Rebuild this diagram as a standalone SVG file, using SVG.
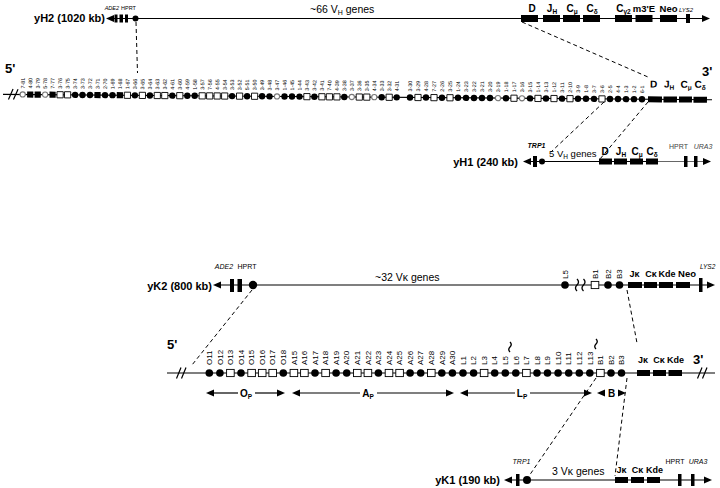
<svg xmlns="http://www.w3.org/2000/svg" width="720" height="488" viewBox="0 0 720 488">
<style>
text{font-family:"Liberation Sans",Arial,sans-serif;fill:#000}
.b{font-weight:bold}
.i{font-style:italic}
.hl{font-size:5.3px}
.kl{font-size:8px}
.ln{stroke:#000;stroke-width:1.2;fill:none}
.gl{stroke:#666;stroke-width:1;fill:none}
.ds{stroke:#000;stroke-width:1;stroke-dasharray:4 3;fill:none}
.wv{stroke:#000;stroke-width:1.3;fill:none}
</style>
<defs>
<circle id="hf" r="3.2" fill="#000"/>
<circle id="ho" r="2.6" fill="#fff" stroke="#777" stroke-width="1.1"/>
<rect id="hs" x="-3.1" y="-3.1" width="6.2" height="6.2" fill="#fff" stroke="#000" stroke-width="0.9"/>
<rect id="hq" x="-3.1" y="-3.1" width="6.2" height="6.2" fill="#000"/>
<circle id="kf" r="3.8" fill="#000"/>
<rect id="ks" x="-3.8" y="-3.6" width="7.6" height="7.2" fill="#fff" stroke="#000" stroke-width="0.9"/>
</defs>
<rect width="720" height="488" fill="#fff"/>

<!-- yH2 YAC -->
<g id="yH2">
<text x="105" y="22" class="b" font-size="11" text-anchor="end">yH2 (1020 kb)</text>
<line x1="113" y1="18.5" x2="703" y2="18.5" class="ln"/>
<polygon points="106,18.5 114,15 114,22" fill="#000"/>
<rect x="114.5" y="14.5" width="3" height="8" fill="#000"/>
<rect x="119.5" y="14.5" width="3.5" height="8" fill="#000"/>
<rect x="125" y="14.5" width="3" height="8" fill="#000"/>
<circle cx="135.5" cy="18.5" r="3" fill="#000"/>
<text x="119" y="10" class="i" font-size="5.5" text-anchor="end">ADE2</text>
<text x="121" y="10" font-size="5.5">HPRT</text>
<text x="310" y="13" font-size="10.5">~66 V<tspan font-size="7" dy="2">H</tspan><tspan dy="-2"> genes</tspan></text>
<rect x="521" y="15" width="17" height="7" fill="#000"/>
<rect x="543" y="15" width="17" height="7" fill="#000"/>
<rect x="563" y="15" width="17" height="7" fill="#000"/>
<rect x="583" y="15" width="17" height="7" fill="#000"/>
<rect x="615" y="15" width="17" height="7" fill="#000"/>
<rect x="635.5" y="15" width="17" height="7" fill="#000"/>
<rect x="660" y="15" width="17" height="7" fill="#000"/>
<rect x="686" y="14" width="4" height="9" fill="#000"/>
<polygon points="702,15 710,18.5 702,22" fill="#000"/>
<text x="532" y="11.5" class="b" font-size="10" text-anchor="middle">D</text>
<text x="552" y="11.5" class="b" font-size="10" text-anchor="middle">J<tspan font-size="6.5" dy="2">H</tspan></text>
<text x="572" y="11.5" class="b" font-size="10" text-anchor="middle">C<tspan font-size="6.5" dy="2">μ</tspan></text>
<text x="592" y="11.5" class="b" font-size="10" text-anchor="middle">C<tspan font-size="6.5" dy="2">δ</tspan></text>
<text x="623.5" y="11.5" class="b" font-size="10" text-anchor="middle">C<tspan font-size="6.5" dy="2">γ2</tspan></text>
<text x="644" y="11.5" class="b" font-size="9.5" text-anchor="middle">m3'E</text>
<text x="668.5" y="11.5" class="b" font-size="9.5" text-anchor="middle">Neo</text>
<text x="679" y="11.5" class="i" font-size="6">LYS2</text>
</g>

<!-- Heavy chain locus -->
<g id="ighLabels">
<text x="5" y="73" class="b" font-size="13">5'</text>
<text x="702" y="76" class="b" font-size="13">3'</text>
</g>
<g id="ighLocus" transform="rotate(0.44 0 94.3)">
<line x1="3" y1="94.3" x2="712" y2="94.3" class="ln"/>
<path d="M8.5,99.5 L13,89 M13.5,99.5 L18,89" class="ln"/>
<g id="vh-7-81"><use href="#ho" x="22.7" y="94.3"/><text class="hl" transform="translate(24.6 88.3) rotate(-90)">7-81</text></g>
<g id="vh-4-80"><use href="#hq" x="30.2" y="94.3"/><text class="hl" transform="translate(32.1 88.3) rotate(-90)">4-80</text></g>
<g id="vh-3-79"><use href="#hq" x="37.7" y="94.3"/><text class="hl" transform="translate(39.6 88.3) rotate(-90)">3-79</text></g>
<g id="vh-5-78"><use href="#ho" x="45.1" y="94.3"/><text class="hl" transform="translate(47 88.3) rotate(-90)">5-78</text></g>
<g id="vh-7-77"><use href="#hq" x="52.6" y="94.3"/><text class="hl" transform="translate(54.5 88.3) rotate(-90)">7-77</text></g>
<g id="vh-3-76"><use href="#hs" x="60.1" y="94.3"/><text class="hl" transform="translate(62 88.3) rotate(-90)">3-76</text></g>
<g id="vh-3-75"><use href="#hs" x="67.6" y="94.3"/><text class="hl" transform="translate(69.5 88.3) rotate(-90)">3-75</text></g>
<g id="vh-3-74"><use href="#hf" x="75.1" y="94.3"/><text class="hl" transform="translate(77 88.3) rotate(-90)">3-74</text></g>
<g id="vh-3-73"><use href="#hf" x="82.5" y="94.3"/><text class="hl" transform="translate(84.4 88.3) rotate(-90)">3-73</text></g>
<g id="vh-3-72"><use href="#hf" x="90" y="94.3"/><text class="hl" transform="translate(91.9 88.3) rotate(-90)">3-72</text></g>
<g id="vh-3-71"><use href="#hq" x="97.5" y="94.3"/><text class="hl" transform="translate(99.4 88.3) rotate(-90)">3-71</text></g>
<g id="vh-2-70"><use href="#hf" x="105" y="94.3"/><text class="hl" transform="translate(106.9 88.3) rotate(-90)">2-70</text></g>
<g id="vh-1-69"><use href="#hf" x="112.5" y="94.3"/><text class="hl" transform="translate(114.4 88.3) rotate(-90)">1-69</text></g>
<g id="vh-1-68"><use href="#hq" x="119.9" y="94.3"/><text class="hl" transform="translate(121.8 88.3) rotate(-90)">1-68</text></g>
<g id="vh-1-67"><use href="#hs" x="127.4" y="94.3"/><text class="hl" transform="translate(129.3 88.3) rotate(-90)">1-67</text></g>
<g id="vh-3-66"><use href="#hf" x="134.9" y="94.3"/><text class="hl" transform="translate(136.8 88.3) rotate(-90)">3-66</text></g>
<g id="vh-3-65"><use href="#hs" x="142.4" y="94.3"/><text class="hl" transform="translate(144.3 88.3) rotate(-90)">3-65</text></g>
<g id="vh-3-64"><use href="#hf" x="149.9" y="94.3"/><text class="hl" transform="translate(151.8 88.3) rotate(-90)">3-64</text></g>
<g id="vh-3-63"><use href="#hs" x="157.3" y="94.3"/><text class="hl" transform="translate(159.2 88.3) rotate(-90)">3-63</text></g>
<g id="vh-3-62"><use href="#hs" x="164.8" y="94.3"/><text class="hl" transform="translate(166.7 88.3) rotate(-90)">3-62</text></g>
<g id="vh-4-61"><use href="#hf" x="172.3" y="94.3"/><text class="hl" transform="translate(174.2 88.3) rotate(-90)">4-61</text></g>
<g id="vh-3-60"><use href="#hs" x="179.8" y="94.3"/><text class="hl" transform="translate(181.7 88.3) rotate(-90)">3-60</text></g>
<g id="vh-4-59"><use href="#hf" x="187.3" y="94.3"/><text class="hl" transform="translate(189.2 88.3) rotate(-90)">4-59</text></g>
<g id="vh-1-58"><use href="#hf" x="194.7" y="94.3"/><text class="hl" transform="translate(196.6 88.3) rotate(-90)">1-58</text></g>
<g id="vh-3-57"><use href="#hs" x="202.2" y="94.3"/><text class="hl" transform="translate(204.1 88.3) rotate(-90)">3-57</text></g>
<g id="vh-7-56"><use href="#hs" x="209.7" y="94.3"/><text class="hl" transform="translate(211.6 88.3) rotate(-90)">7-56</text></g>
<g id="vh-4-55"><use href="#hs" x="217.2" y="94.3"/><text class="hl" transform="translate(219.1 88.3) rotate(-90)">4-55</text></g>
<g id="vh-3-54"><use href="#hs" x="224.7" y="94.3"/><text class="hl" transform="translate(226.6 88.3) rotate(-90)">3-54</text></g>
<g id="vh-3-53"><use href="#hf" x="232.1" y="94.3"/><text class="hl" transform="translate(234 88.3) rotate(-90)">3-53</text></g>
<g id="vh-3-52"><use href="#hs" x="239.6" y="94.3"/><text class="hl" transform="translate(241.5 88.3) rotate(-90)">3-52</text></g>
<g id="vh-5-51"><use href="#hf" x="247.1" y="94.3"/><text class="hl" transform="translate(249 88.3) rotate(-90)">5-51</text></g>
<g id="vh-3-50"><use href="#hs" x="254.6" y="94.3"/><text class="hl" transform="translate(256.5 88.3) rotate(-90)">3-50</text></g>
<g id="vh-3-49"><use href="#hf" x="262.1" y="94.3"/><text class="hl" transform="translate(264 88.3) rotate(-90)">3-49</text></g>
<g id="vh-3-48"><use href="#hf" x="269.5" y="94.3"/><text class="hl" transform="translate(271.4 88.3) rotate(-90)">3-48</text></g>
<g id="vh-3-47"><use href="#ho" x="277" y="94.3"/><text class="hl" transform="translate(278.9 88.3) rotate(-90)">3-47</text></g>
<g id="vh-1-46"><use href="#hf" x="284.5" y="94.3"/><text class="hl" transform="translate(286.4 88.3) rotate(-90)">1-46</text></g>
<g id="vh-1-45"><use href="#hf" x="292" y="94.3"/><text class="hl" transform="translate(293.9 88.3) rotate(-90)">1-45</text></g>
<g id="vh-1-44"><use href="#hf" x="299.5" y="94.3"/><text class="hl" transform="translate(301.4 88.3) rotate(-90)">1-44</text></g>
<g id="vh-3-43"><use href="#hs" x="306.9" y="94.3"/><text class="hl" transform="translate(308.8 88.3) rotate(-90)">3-43</text></g>
<g id="vh-3-42"><use href="#hf" x="314.4" y="94.3"/><text class="hl" transform="translate(316.3 88.3) rotate(-90)">3-42</text></g>
<g id="vh-3-41"><use href="#hs" x="321.9" y="94.3"/><text class="hl" transform="translate(323.8 88.3) rotate(-90)">3-41</text></g>
<g id="vh-7-40"><use href="#hs" x="329.4" y="94.3"/><text class="hl" transform="translate(331.3 88.3) rotate(-90)">7-40</text></g>
<g id="vh-4-39"><use href="#hs" x="336.9" y="94.3"/><text class="hl" transform="translate(338.8 88.3) rotate(-90)">4-39</text></g>
<g id="vh-3-38"><use href="#hf" x="344.3" y="94.3"/><text class="hl" transform="translate(346.2 88.3) rotate(-90)">3-38</text></g>
<g id="vh-3-37"><use href="#ho" x="351.8" y="94.3"/><text class="hl" transform="translate(353.7 88.3) rotate(-90)">3-37</text></g>
<g id="vh-3-36"><use href="#hs" x="359.3" y="94.3"/><text class="hl" transform="translate(361.2 88.3) rotate(-90)">3-36</text></g>
<g id="vh-3-35"><use href="#hs" x="366.8" y="94.3"/><text class="hl" transform="translate(368.7 88.3) rotate(-90)">3-35</text></g>
<g id="vh-4-34"><use href="#ho" x="374.3" y="94.3"/><text class="hl" transform="translate(376.2 88.3) rotate(-90)">4-34</text></g>
<g id="vh-3-33"><use href="#hf" x="381.7" y="94.3"/><text class="hl" transform="translate(383.6 88.3) rotate(-90)">3-33</text></g>
<g id="vh-3-32"><use href="#hs" x="389.2" y="94.3"/><text class="hl" transform="translate(391.1 88.3) rotate(-90)">3-32</text></g>
<g id="vh-4-31"><use href="#hf" x="396.7" y="94.3"/><text class="hl" transform="translate(398.6 88.3) rotate(-90)">4-31</text></g>
<g id="vh-3-30"><use href="#hf" x="410" y="94.3"/><text class="hl" transform="translate(411.9 88.3) rotate(-90)">3-30</text></g>
<g id="vh-3-29"><use href="#hs" x="418" y="94.3"/><text class="hl" transform="translate(419.9 88.3) rotate(-90)">3-29</text></g>
<g id="vh-4-28"><use href="#hf" x="426" y="94.3"/><text class="hl" transform="translate(427.9 88.3) rotate(-90)">4-28</text></g>
<g id="vh-7-27"><use href="#hs" x="434" y="94.3"/><text class="hl" transform="translate(435.9 88.3) rotate(-90)">7-27</text></g>
<g id="vh-2-26"><use href="#hf" x="442" y="94.3"/><text class="hl" transform="translate(443.9 88.3) rotate(-90)">2-26</text></g>
<g id="vh-3-25"><use href="#hs" x="450" y="94.3"/><text class="hl" transform="translate(451.9 88.3) rotate(-90)">3-25</text></g>
<g id="vh-1-24"><use href="#hf" x="458" y="94.3"/><text class="hl" transform="translate(459.9 88.3) rotate(-90)">1-24</text></g>
<g id="vh-3-23"><use href="#hf" x="466" y="94.3"/><text class="hl" transform="translate(467.9 88.3) rotate(-90)">3-23</text></g>
<g id="vh-3-22"><use href="#hf" x="474" y="94.3"/><text class="hl" transform="translate(475.9 88.3) rotate(-90)">3-22</text></g>
<g id="vh-3-21"><use href="#hf" x="482" y="94.3"/><text class="hl" transform="translate(483.9 88.3) rotate(-90)">3-21</text></g>
<g id="vh-3-20"><use href="#hf" x="490" y="94.3"/><text class="hl" transform="translate(491.9 88.3) rotate(-90)">3-20</text></g>
<g id="vh-3-19"><use href="#ho" x="498" y="94.3"/><text class="hl" transform="translate(499.9 88.3) rotate(-90)">3-19</text></g>
<g id="vh-1-18"><use href="#hf" x="506" y="94.3"/><text class="hl" transform="translate(507.9 88.3) rotate(-90)">1-18</text></g>
<g id="vh-1-17"><use href="#hs" x="514" y="94.3"/><text class="hl" transform="translate(515.9 88.3) rotate(-90)">1-17</text></g>
<g id="vh-3-16"><use href="#ho" x="522" y="94.3"/><text class="hl" transform="translate(523.9 88.3) rotate(-90)">3-16</text></g>
<g id="vh-3-15"><use href="#hf" x="530" y="94.3"/><text class="hl" transform="translate(531.9 88.3) rotate(-90)">3-15</text></g>
<g id="vh-1-14"><use href="#hs" x="538" y="94.3"/><text class="hl" transform="translate(539.9 88.3) rotate(-90)">1-14</text></g>
<g id="vh-3-13"><use href="#hf" x="546" y="94.3"/><text class="hl" transform="translate(547.9 88.3) rotate(-90)">3-13</text></g>
<g id="vh-1-12"><use href="#hs" x="554" y="94.3"/><text class="hl" transform="translate(555.9 88.3) rotate(-90)">1-12</text></g>
<g id="vh-3-11"><use href="#hf" x="562" y="94.3"/><text class="hl" transform="translate(563.9 88.3) rotate(-90)">3-11</text></g>
<g id="vh-2-10"><use href="#hs" x="570" y="94.3"/><text class="hl" transform="translate(571.9 88.3) rotate(-90)">2-10</text></g>
<g id="vh-3-9"><use href="#hf" x="578" y="94.3"/><text class="hl" transform="translate(579.9 88.3) rotate(-90)">3-9</text></g>
<g id="vh-1-8"><use href="#hf" x="586" y="94.3"/><text class="hl" transform="translate(587.9 88.3) rotate(-90)">1-8</text></g>
<g id="vh-3-7"><use href="#hf" x="594" y="94.3"/><text class="hl" transform="translate(595.9 88.3) rotate(-90)">3-7</text></g>
<g id="vh-3-6"><use href="#hs" x="602" y="94.3"/><text class="hl" transform="translate(603.9 88.3) rotate(-90)">3-6</text></g>
<g id="vh-2-5"><use href="#hf" x="610" y="94.3"/><text class="hl" transform="translate(611.9 88.3) rotate(-90)">2-5</text></g>
<g id="vh-4-4"><use href="#hf" x="618" y="94.3"/><text class="hl" transform="translate(619.9 88.3) rotate(-90)">4-4</text></g>
<g id="vh-1-3"><use href="#hf" x="626" y="94.3"/><text class="hl" transform="translate(627.9 88.3) rotate(-90)">1-3</text></g>
<g id="vh-1-2"><use href="#hf" x="634" y="94.3"/><text class="hl" transform="translate(635.9 88.3) rotate(-90)">1-2</text></g>
<g id="vh-6-1"><use href="#hf" x="642" y="94.3"/><text class="hl" transform="translate(643.9 88.3) rotate(-90)">6-1</text></g>
<g id="igh-const">
<rect x="648" y="91.3" width="14" height="6" fill="#000"/>
<rect x="663.5" y="91.3" width="13.5" height="6" fill="#000"/>
<rect x="679" y="91.3" width="13" height="6" fill="#000"/>
<rect x="693.5" y="91.3" width="13.5" height="6" fill="#000"/>
<text x="653.5" y="82.5" class="b" font-size="10" text-anchor="middle">D</text>
<text x="669" y="82.5" class="b" font-size="10" text-anchor="middle">J<tspan font-size="6.5" dy="2">H</tspan></text>
<text x="686" y="82.5" class="b" font-size="10" text-anchor="middle">C<tspan font-size="6.5" dy="2">μ</tspan></text>
<text x="700" y="82.5" class="b" font-size="10" text-anchor="middle">C<tspan font-size="6.5" dy="2">δ</tspan></text>
</g>
</g>

<!-- yH1 YAC -->
<g id="yH1">
<text x="518" y="166" class="b" font-size="11" text-anchor="end">yH1 (240 kb)</text>
<line x1="530" y1="161.5" x2="658" y2="161.5" class="ln"/>
<line x1="658" y1="161.5" x2="704" y2="161.5" class="gl"/>
<polygon points="523,161.5 531,158 531,165" fill="#000"/>
<rect x="533" y="156" width="4" height="11" fill="#000"/>
<circle cx="542" cy="161.5" r="3" fill="#000"/>
<text x="536.5" y="148" class="b i" font-size="7" text-anchor="middle">TRP1</text>
<text x="549" y="157" font-size="9.5">5 V<tspan font-size="6.5" dy="2">H</tspan><tspan dy="-2"> genes</tspan></text>
<rect x="599" y="158.5" width="13" height="6" fill="#000"/>
<rect x="614" y="158.5" width="13" height="6" fill="#000"/>
<rect x="630" y="158.5" width="13" height="6" fill="#000"/>
<rect x="646" y="158.5" width="12" height="6" fill="#000"/>
<text x="605" y="155" class="b" font-size="10" text-anchor="middle">D</text>
<text x="621" y="155" class="b" font-size="10" text-anchor="middle">J<tspan font-size="6.5" dy="2">H</tspan></text>
<text x="637" y="155" class="b" font-size="10" text-anchor="middle">C<tspan font-size="6.5" dy="2">μ</tspan></text>
<text x="652" y="155" class="b" font-size="10" text-anchor="middle">C<tspan font-size="6.5" dy="2">δ</tspan></text>
<rect x="684" y="156" width="3.5" height="11" fill="#000"/>
<rect x="694" y="156" width="3.5" height="11" fill="#000"/>
<polygon points="703,158 711,161.5 703,165" fill="#000"/>
<text x="678.5" y="149" font-size="7" text-anchor="middle" style="fill:#444">HPRT</text>
<text x="703" y="149" class="i" font-size="7" text-anchor="middle" style="fill:#444">URA3</text>
</g>

<!-- yK2 YAC -->
<g id="yK2">
<text x="212" y="290" class="b" font-size="11" text-anchor="end">yK2 (800 kb)</text>
<line x1="220" y1="285" x2="708" y2="285" class="ln"/>
<polygon points="213,285 221,281.5 221,288.5" fill="#000"/>
<rect x="230" y="279" width="4" height="13" fill="#000"/>
<rect x="237.5" y="279" width="4.5" height="13" fill="#000"/>
<circle cx="253" cy="285" r="4.2" fill="#000"/>
<text x="224" y="269" class="i" font-size="7" text-anchor="middle">ADE2</text>
<text x="247" y="269" font-size="7" text-anchor="middle">HPRT</text>
<text x="375" y="281" font-size="10.5">~32 Vκ genes</text>
<path d="M577,279 q3,3 0,6 q-3,3 0,6 M583.5,279 q3,3 0,6 q-3,3 0,6" class="wv"/>
<rect x="628" y="282" width="14" height="6" fill="#000"/>
<rect x="644" y="282" width="13" height="6" fill="#000"/>
<rect x="659" y="282" width="14" height="6" fill="#000"/>
<rect x="676" y="282" width="14" height="6" fill="#000"/>
<rect x="699" y="278" width="3.5" height="14" fill="#000"/>
<polygon points="707,281.5 715,285 707,288.5" fill="#000"/>
<text x="634.5" y="277" class="b" font-size="9" text-anchor="middle">Jκ</text>
<text x="651" y="277" class="b" font-size="9" text-anchor="middle">Cκ</text>
<text x="667" y="277" class="b" font-size="9" text-anchor="middle">Kde</text>
<text x="687" y="277" class="b" font-size="9.5" text-anchor="middle">Neo</text>
<text x="700" y="269" class="i" font-size="6.5">LYS2</text>
</g>
<g id="yk2-L5"><use href="#kf" x="565" y="285"/><text class="kl" transform="translate(567.7 279) rotate(-90)">L5</text></g>
<g id="yk2-B1"><use href="#ks" x="595" y="285"/><text class="kl" transform="translate(597.7 279) rotate(-90)">B1</text></g>
<g id="yk2-B2"><use href="#kf" x="608" y="285"/><text class="kl" transform="translate(610.7 279) rotate(-90)">B2</text></g>
<g id="yk2-B3"><use href="#kf" x="619.5" y="285"/><text class="kl" transform="translate(622.2 279) rotate(-90)">B3</text></g>

<!-- Kappa locus -->
<g id="igkLocus">
<line x1="167" y1="373" x2="715" y2="373" class="ln"/>
<path d="M176.5,378.5 L181,367.5 M181.5,378.5 L186,367.5 M697.5,378.5 L702,367.5 M702.5,378.5 L707,367.5" class="ln"/>
<text x="167" y="349" class="b" font-size="13">5'</text>
<text x="693" y="364" class="b" font-size="13">3'</text>
<path d="M510,342 q2.5,2.5 0,5 q-2.5,2.5 0,5 M596,339 q2.5,2.5 0,5 q-2.5,2.5 0,5" class="wv"/>
<rect x="637" y="370" width="13" height="6" fill="#000"/>
<rect x="653" y="370" width="13" height="6" fill="#000"/>
<rect x="668.5" y="370" width="13.5" height="6" fill="#000"/>
<text x="643" y="363" class="b" font-size="9" text-anchor="middle">Jκ</text>
<text x="659" y="363" class="b" font-size="9" text-anchor="middle">Cκ</text>
<text x="675.5" y="363" class="b" font-size="9" text-anchor="middle">Kde</text>
</g>
<g id="vk-O11"><use href="#kf" x="209.3" y="373"/><text class="kl" transform="translate(212 365) rotate(-90)">O11</text></g>
<g id="vk-O12"><use href="#kf" x="219.9" y="373"/><text class="kl" transform="translate(222.6 365) rotate(-90)">O12</text></g>
<g id="vk-O13"><use href="#ks" x="230.4" y="373"/><text class="kl" transform="translate(233.1 365) rotate(-90)">O13</text></g>
<g id="vk-O14"><use href="#kf" x="241" y="373"/><text class="kl" transform="translate(243.7 365) rotate(-90)">O14</text></g>
<g id="vk-O15"><use href="#ks" x="251.6" y="373"/><text class="kl" transform="translate(254.3 365) rotate(-90)">O15</text></g>
<g id="vk-O16"><use href="#ks" x="262.2" y="373"/><text class="kl" transform="translate(264.9 365) rotate(-90)">O16</text></g>
<g id="vk-O17"><use href="#ks" x="272.7" y="373"/><text class="kl" transform="translate(275.4 365) rotate(-90)">O17</text></g>
<g id="vk-O18"><use href="#kf" x="283.3" y="373"/><text class="kl" transform="translate(286 365) rotate(-90)">O18</text></g>
<g id="vk-A15"><use href="#ks" x="293.9" y="373"/><text class="kl" transform="translate(296.6 365) rotate(-90)">A15</text></g>
<g id="vk-A16"><use href="#ks" x="304.4" y="373"/><text class="kl" transform="translate(307.1 365) rotate(-90)">A16</text></g>
<g id="vk-A17"><use href="#kf" x="315" y="373"/><text class="kl" transform="translate(317.7 365) rotate(-90)">A17</text></g>
<g id="vk-A18"><use href="#ks" x="325.6" y="373"/><text class="kl" transform="translate(328.3 365) rotate(-90)">A18</text></g>
<g id="vk-A19"><use href="#kf" x="336.1" y="373"/><text class="kl" transform="translate(338.8 365) rotate(-90)">A19</text></g>
<g id="vk-A20"><use href="#kf" x="346.7" y="373"/><text class="kl" transform="translate(349.4 365) rotate(-90)">A20</text></g>
<g id="vk-A21"><use href="#ks" x="357.3" y="373"/><text class="kl" transform="translate(360 365) rotate(-90)">A21</text></g>
<g id="vk-A22"><use href="#ks" x="367.9" y="373"/><text class="kl" transform="translate(370.6 365) rotate(-90)">A22</text></g>
<g id="vk-A23"><use href="#kf" x="378.4" y="373"/><text class="kl" transform="translate(381.1 365) rotate(-90)">A23</text></g>
<g id="vk-A24"><use href="#ks" x="389" y="373"/><text class="kl" transform="translate(391.7 365) rotate(-90)">A24</text></g>
<g id="vk-A25"><use href="#ks" x="399.6" y="373"/><text class="kl" transform="translate(402.3 365) rotate(-90)">A25</text></g>
<g id="vk-A26"><use href="#kf" x="410.1" y="373"/><text class="kl" transform="translate(412.8 365) rotate(-90)">A26</text></g>
<g id="vk-A27"><use href="#kf" x="420.7" y="373"/><text class="kl" transform="translate(423.4 365) rotate(-90)">A27</text></g>
<g id="vk-A28"><use href="#ks" x="431.3" y="373"/><text class="kl" transform="translate(434 365) rotate(-90)">A28</text></g>
<g id="vk-A29"><use href="#kf" x="441.8" y="373"/><text class="kl" transform="translate(444.5 365) rotate(-90)">A29</text></g>
<g id="vk-A30"><use href="#kf" x="452.4" y="373"/><text class="kl" transform="translate(455.1 365) rotate(-90)">A30</text></g>
<g id="vk-L1"><use href="#kf" x="463" y="373"/><text class="kl" transform="translate(465.7 365) rotate(-90)">L1</text></g>
<g id="vk-L2"><use href="#kf" x="473.6" y="373"/><text class="kl" transform="translate(476.3 365) rotate(-90)">L2</text></g>
<g id="vk-L3"><use href="#ks" x="484.1" y="373"/><text class="kl" transform="translate(486.8 365) rotate(-90)">L3</text></g>
<g id="vk-L4"><use href="#kf" x="494.7" y="373"/><text class="kl" transform="translate(497.4 365) rotate(-90)">L4</text></g>
<g id="vk-L5"><use href="#kf" x="505.3" y="373"/><text class="kl" transform="translate(508 365) rotate(-90)">L5</text></g>
<g id="vk-L6"><use href="#kf" x="515.8" y="373"/><text class="kl" transform="translate(518.5 365) rotate(-90)">L6</text></g>
<g id="vk-L7"><use href="#ks" x="526.4" y="373"/><text class="kl" transform="translate(529.1 365) rotate(-90)">L7</text></g>
<g id="vk-L8"><use href="#kf" x="537" y="373"/><text class="kl" transform="translate(539.7 365) rotate(-90)">L8</text></g>
<g id="vk-L9"><use href="#kf" x="547.5" y="373"/><text class="kl" transform="translate(550.2 365) rotate(-90)">L9</text></g>
<g id="vk-L10"><use href="#kf" x="558.1" y="373"/><text class="kl" transform="translate(560.8 365) rotate(-90)">L10</text></g>
<g id="vk-L11"><use href="#kf" x="568.7" y="373"/><text class="kl" transform="translate(571.4 365) rotate(-90)">L11</text></g>
<g id="vk-L12"><use href="#kf" x="579.3" y="373"/><text class="kl" transform="translate(582 365) rotate(-90)">L12</text></g>
<g id="vk-L13"><use href="#kf" x="589.8" y="373"/><text class="kl" transform="translate(592.5 365) rotate(-90)">L13</text></g>
<g id="vk-B1"><use href="#ks" x="600.4" y="373"/><text class="kl" transform="translate(603.1 365) rotate(-90)">B1</text></g>
<g id="vk-B2"><use href="#kf" x="611" y="373"/><text class="kl" transform="translate(613.7 365) rotate(-90)">B2</text></g>
<g id="vk-B3"><use href="#kf" x="621.5" y="373"/><text class="kl" transform="translate(624.2 365) rotate(-90)">B3</text></g>

<!-- cluster spans -->
<g id="spans">
<line x1="212" y1="393" x2="238" y2="393" class="ln"/>
<line x1="255" y1="393" x2="279" y2="393" class="ln"/>
<polygon points="206,393 214,389.5 214,396.5" fill="#000"/>
<polygon points="285,393 277,389.5 277,396.5" fill="#000"/>
<text x="246" y="397" class="b" font-size="10" text-anchor="middle">O<tspan font-size="6.5" dy="2">P</tspan></text>
<line x1="298" y1="393" x2="360" y2="393" class="ln"/>
<line x1="377" y1="393" x2="448" y2="393" class="ln"/>
<polygon points="292,393 300,389.5 300,396.5" fill="#000"/>
<polygon points="454,393 446,389.5 446,396.5" fill="#000"/>
<text x="368" y="397" class="b" font-size="10" text-anchor="middle">A<tspan font-size="6.5" dy="2">P</tspan></text>
<line x1="466" y1="393" x2="515" y2="393" class="ln"/>
<line x1="530" y1="393" x2="586" y2="393" class="ln"/>
<polygon points="460,393 468,389.5 468,396.5" fill="#000"/>
<polygon points="592,393 584,389.5 584,396.5" fill="#000"/>
<text x="522" y="397" class="b" font-size="10" text-anchor="middle">L<tspan font-size="6.5" dy="2">P</tspan></text>
<polygon points="597,393 605,389.5 605,396.5" fill="#000"/>
<polygon points="626,393 618,389.5 618,396.5" fill="#000"/>
<text x="611.5" y="397" class="b" font-size="10" text-anchor="middle">B</text>
</g>

<!-- yK1 YAC -->
<g id="yK1">
<text x="500" y="484" class="b" font-size="11" text-anchor="end">yK1 (190 kb)</text>
<line x1="511" y1="480" x2="705" y2="480" class="ln"/>
<polygon points="504,480 512,476.5 512,483.5" fill="#000"/>
<rect x="516" y="474" width="3.5" height="12" fill="#000"/>
<circle cx="527" cy="480" r="4" fill="#000"/>
<text x="521.5" y="464" class="i" font-size="7" text-anchor="middle">TRP1</text>
<text x="552" y="475" font-size="10.5">3 Vκ genes</text>
<rect x="615" y="477" width="13" height="6" fill="#000"/>
<rect x="631" y="477" width="13" height="6" fill="#000"/>
<rect x="647" y="477" width="13" height="6" fill="#000"/>
<text x="621.5" y="473" class="b" font-size="9" text-anchor="middle">Jκ</text>
<text x="637.5" y="473" class="b" font-size="9" text-anchor="middle">Cκ</text>
<text x="654.5" y="473" class="b" font-size="9" text-anchor="middle">Kde</text>
<rect x="678" y="474" width="3.5" height="12" fill="#000"/>
<rect x="691" y="474" width="3.5" height="12" fill="#000"/>
<polygon points="704,476.5 712,480 704,483.5" fill="#000"/>
<text x="675" y="464" font-size="7" text-anchor="middle">HPRT</text>
<text x="698" y="464" class="i" font-size="7" text-anchor="middle">URA3</text>
</g>

<!-- connectors -->
<g id="connectors">
<line x1="136" y1="22" x2="137.5" y2="73" class="ds"/>
<line x1="522" y1="22" x2="648" y2="77" class="ds"/>
<line x1="604" y1="102" x2="551" y2="152" class="ds"/>
<line x1="648" y1="102" x2="600" y2="159" class="ds"/>
<line x1="252" y1="290" x2="192" y2="365" class="ds"/>
<line x1="627" y1="290" x2="637" y2="343" class="ds"/>
<line x1="596" y1="378" x2="529" y2="476" class="ds"/>
<line x1="627" y1="378" x2="615" y2="476" class="ds"/>
</g>
</svg>
